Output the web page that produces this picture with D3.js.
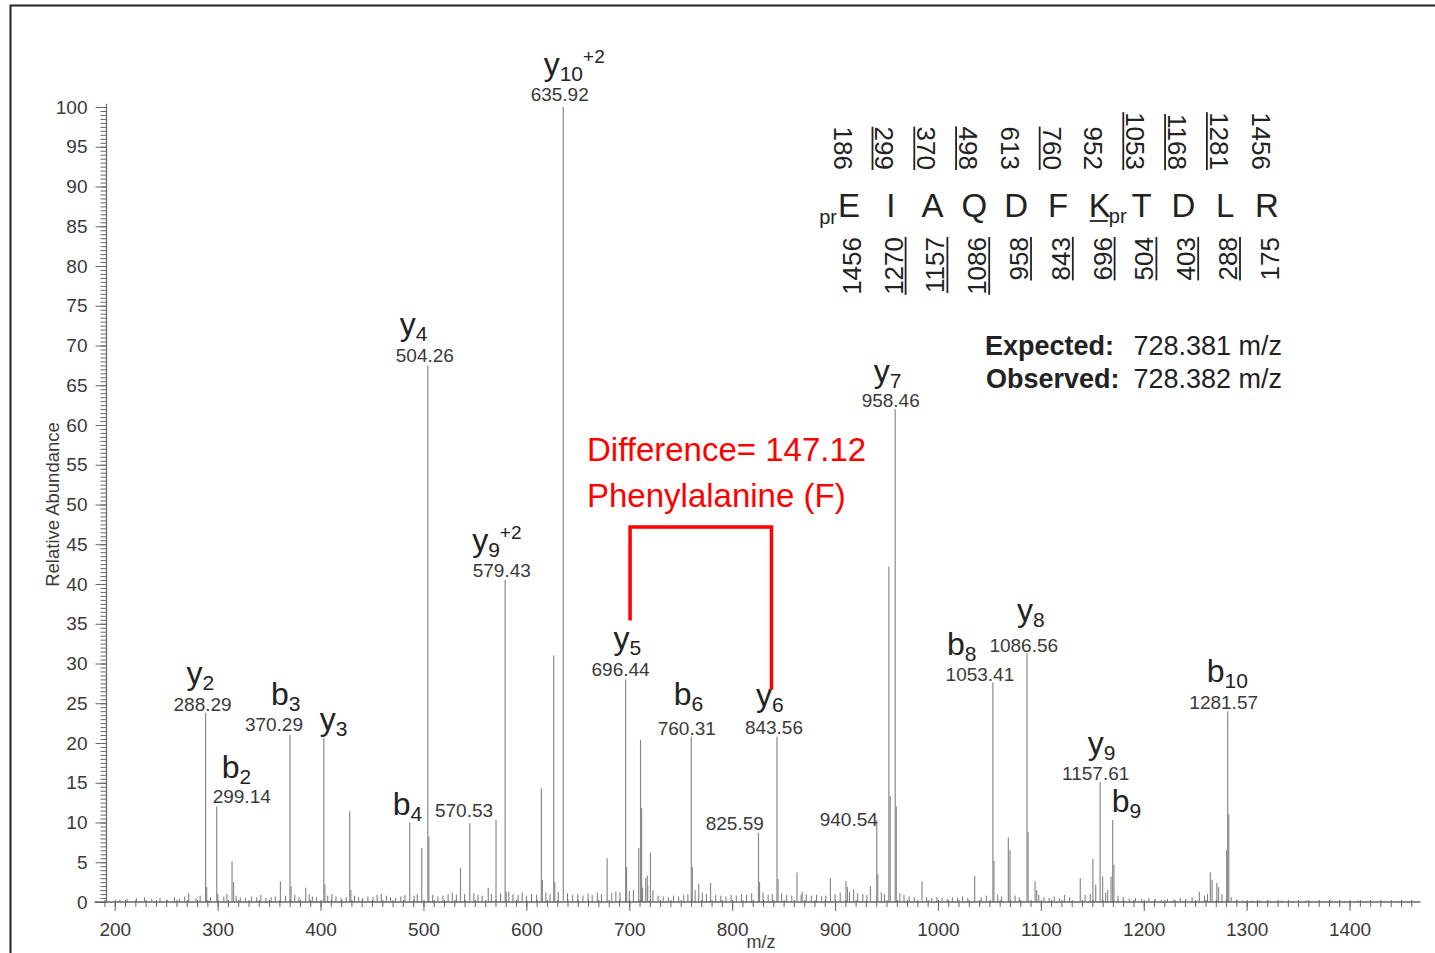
<!DOCTYPE html>
<html>
<head>
<meta charset="utf-8">
<script src="https://cdn.jsdelivr.net/npm/d3@7"></script>
<style>
  html, body { margin: 0; padding: 0; background: #fff; }
  svg { display: block; }
  text { font-family: "Liberation Sans", Arial, sans-serif; }
</style>
</head>
<body>
<div id="chart"></div>
<script>
// ---- data ----
const xTicks = [200, 300, 400, 500, 600, 700, 800, 900, 1000, 1100, 1200, 1300, 1400];
const yTicks = [0, 5, 10, 15, 20, 25, 30, 35, 40, 45, 50, 55, 60, 65, 70, 75, 80, 85, 90, 95, 100];

// [m/z, relative abundance]
const peaks = [
  [271.9, 1.1], [288.29, 23.8], [289.3, 1.9], [299.14, 12.0], [300.1, 1.0], [314.0, 5.1], [315.5, 2.5],
  [361.0, 2.6], [370.29, 21.0], [371.3, 2.0], [385.6, 1.8], [403.2, 20.6], [404.2, 2.2], [411.0, 1.0],
  [428.4, 11.4], [429.4, 1.5], [459.0, 1.0], [486.7, 10.0], [498.3, 6.8], [504.26, 67.5], [505.3, 8.2],
  [536.0, 4.3], [545.0, 9.9], [563.0, 1.8], [570.53, 10.3], [579.43, 40.5], [580.4, 1.3], [596.0, 1.2],
  [614.6, 14.3], [615.6, 2.8], [626.6, 31.0], [627.6, 2.5], [635.92, 100], [678.5, 5.5], [696.44, 28.0],
  [697.4, 4.4], [709.2, 6.8], [711.0, 20.4], [712.0, 11.8], [716.0, 3.0], [717.5, 3.3], [720.6, 6.2],
  [760.31, 20.8], [761.3, 4.4], [767.5, 2.3], [779.0, 2.4], [825.59, 8.7], [826.6, 2.5], [843.56, 20.8],
  [844.6, 2.9], [863.0, 3.7], [868.0, 1.3], [895.5, 3.0], [910.6, 2.6], [912.0, 1.9], [918.0, 1.6],
  [934.4, 2.0], [940.54, 10.3], [941.5, 3.5], [952.3, 42.2], [953.6, 13.3], [958.46, 62.0], [959.5, 12.0],
  [984.5, 2.6], [1035.7, 3.3], [1053.41, 27.6], [1054.4, 5.2], [1068.4, 8.1], [1070.0, 6.5],
  [1086.56, 31.3], [1087.6, 8.8], [1094.4, 2.6], [1096.0, 1.5], [1123.0, 0.9], [1138.3, 3.0],
  [1150.6, 5.4], [1153.3, 2.2], [1157.61, 15.1], [1160.0, 3.2], [1168.2, 3.2], [1169.8, 10.3],
  [1171.0, 4.7], [1235.5, 0.5], [1254.0, 1.3], [1264.7, 3.7], [1266.4, 2.8], [1271.0, 2.4],
  [1272.7, 1.9], [1280.6, 6.5], [1281.57, 24.0], [1282.6, 11.0]
];

// low-level baseline signal
const noisePeaks = [
  [205, 0.3], [212, 0.4], [221, 0.5], [229, 0.6], [236, 0.4], [244, 0.5], [251, 0.3], [258, 0.6],
  [263, 0.4], [268, 0.7], [279, 0.5], [283, 0.8], [293, 0.6], [306, 0.7], [309, 1.0], [318, 0.8],
  [322, 0.6], [327, 0.5], [333, 0.7], [338, 0.6], [342, 0.9], [347, 0.5], [352, 0.6], [356, 0.7],
  [366, 0.8], [375, 0.9], [379, 0.6], [389, 1.0], [392, 0.7], [396, 0.6], [407, 0.8], [415, 0.7],
  [420, 0.5], [425, 0.6], [433, 0.8], [437, 0.6], [441, 0.5], [446, 0.7], [451, 0.6], [455, 0.9],
  [464, 0.8], [468, 0.6], [473, 0.5], [478, 0.7], [482, 0.9], [491, 0.8], [494, 1.0], [509, 0.9],
  [514, 0.7], [519, 0.8], [524, 1.0], [528, 1.2], [532, 0.9], [540, 1.0], [549, 1.1], [553, 0.9],
  [557, 0.8], [566, 1.0], [575, 1.1], [583, 1.3], [587, 1.0], [592, 0.9], [600, 0.8], [605, 1.0],
  [610, 0.9], [619, 1.2], [623, 1.0], [631, 1.3], [640, 1.1], [645, 0.9], [650, 1.0], [655, 0.8],
  [660, 1.1], [664, 0.9], [669, 1.2], [673, 1.0], [683, 1.1], [687, 1.3], [691, 1.2], [700, 1.4],
  [704, 1.5], [713, 1.8], [718, 2.0], [723, 1.5], [728, 0.8], [733, 0.7], [738, 0.6], [743, 0.8],
  [748, 0.7], [753, 0.9], [757, 1.0], [764, 1.5], [771, 1.2], [775, 1.0], [784, 0.9], [789, 0.8],
  [794, 0.7], [799, 0.9], [804, 0.8], [809, 1.0], [814, 0.9], [819, 1.1], [830, 1.2], [835, 0.9],
  [839, 1.0], [848, 1.1], [853, 0.9], [858, 0.8], [867, 0.9], [872, 1.0], [877, 0.8], [882, 0.9],
  [887, 0.7], [891, 0.8], [900, 1.0], [905, 1.2], [914, 1.3], [922, 1.1], [927, 1.0], [931, 0.9],
  [945, 1.2], [948, 1.0], [963, 1.1], [967, 0.9], [972, 0.7], [977, 0.6], [989, 0.6], [994, 0.5],
  [999, 0.6], [1004, 0.5], [1009, 0.4], [1014, 0.6], [1019, 0.5], [1024, 0.7], [1029, 0.5],
  [1042, 0.6], [1047, 0.8], [1058, 0.9], [1062, 0.7], [1075, 0.8], [1079, 0.6], [1098, 0.9],
  [1103, 0.6], [1108, 0.5], [1113, 0.7], [1118, 0.5], [1128, 0.6], [1143, 0.9], [1148, 1.0],
  [1163, 1.2], [1165, 1.5], [1175, 0.8], [1180, 0.6], [1186, 0.4], [1192, 0.5], [1198, 0.4],
  [1205, 0.5], [1211, 0.4], [1217, 0.3], [1223, 0.4], [1229, 0.3], [1241, 0.4], [1247, 0.6],
  [1259, 0.8], [1262, 1.0], [1276, 1.0], [1285, 0.6], [1290, 0.3], [1296, 0.2], [1305, 0.2],
  [1313, 0.2], [1322, 0.15], [1334, 0.2], [1345, 0.15], [1358, 0.2], [1370, 0.15], [1382, 0.2],
  [1395, 0.15], [1408, 0.2], [1420, 0.15], [1435, 0.15], [1448, 0.1]
];

// [m/z, abundance, ion letter, subscript, superscript, print m/z]
const labeledPeaks = [
  [288.29, 23.8, 'y', '2', '', true],
  [299.14, 12.0, 'b', '2', '', true],
  [370.29, 21.0, 'b', '3', '', true],
  [403.2, 20.6, 'y', '3', '', false],
  [498.3, 6.8, 'b', '4', '', false],
  [504.26, 67.5, 'y', '4', '', true],
  [570.53, 10.3, '', '', '', true],
  [579.43, 40.5, 'y', '9', '+2', true],
  [635.92, 100, 'y', '10', '+2', true],
  [696.44, 28.0, 'y', '5', '', true],
  [760.31, 20.8, 'b', '6', '', true],
  [825.59, 8.7, '', '', '', true],
  [843.56, 20.8, 'y', '6', '', true],
  [940.54, 10.3, '', '', '', true],
  [958.46, 62.0, 'y', '7', '', true],
  [1053.41, 27.6, 'b', '8', '', true],
  [1086.56, 31.3, 'y', '8', '', true],
  [1157.61, 15.1, 'y', '9', '', true],
  [1169.8, 10.3, 'b', '9', '', false],
  [1281.57, 24.0, 'b', '10', '', true]
];

// peptide sequence and fragment masses
const residues = ['E', 'I', 'A', 'Q', 'D', 'F', 'K', 'T', 'D', 'L', 'R'];
const bIons = [186, 299, 370, 498, 613, 760, 952, 1053, 1168, 1281, 1456];
const yIons = [1456, 1270, 1157, 1086, 958, 843, 696, 504, 403, 288, 175];
const bSeen = [false, true, true, true, false, true, false, true, true, true, false];
const ySeen = [false, true, true, true, true, true, true, true, true, true, false];

// label placement, px from peak top: [ion dx, ion dy, m/z dx, m/z dy]
const labelOffsets = {
  288.29: [-19, -29, -3, -2],
  299.14: [5, -28.6, 25, -3.6],
  370.29: [-19, -30, -16, -4],
  403.2: [-4, -8, 0, 0],
  498.3: [-29, -33, 0, 0],
  504.26: [-28, -30, -3, -3.5],
  570.53: [0, 0, -32, -3],
  579.43: [-33, -29, -3.4, -3],
  635.92: [-19.6, -32, -3.6, -6],
  696.44: [-12, -30, -5, -3.5],
  760.31: [-17.5, -32, -4.5, -1.6],
  825.59: [0, 0, -23.7, -2.8],
  843.56: [-21, -31, -3, -2.6],
  940.54: [0, 0, -28, 6],
  958.46: [-21.5, -27, -4.5, -2],
  1053.41: [-46, -28, -13, -1.6],
  1086.56: [-10, -32, -3.3, -1.2],
  1157.61: [-12.4, -28, -4.4, -2],
  1169.8: [-1, -8, 0, 0],
  1281.57: [-21, -29, -4, -2]
};

const width = 1435, height = 953;

const svg = d3.select('#chart')
  .append('svg')
  .attr('width', width)
  .attr('height', height);

svg.append('rect')
  .attr('width', width).attr('height', height)
  .attr('fill', '#fff');

// frame of the figure
svg.append('rect')
  .attr('x', 10.5).attr('y', 5.5)
  .attr('width', 1440).attr('height', 970)
  .attr('fill', 'none')
  .attr('stroke', '#222')
  .attr('stroke-width', 2);

const x = d3.scaleLinear().domain([192, 1467]).range([106.5, 1418.5]);
const y = d3.scaleLinear().domain([0, 100]).range([902, 107]);

const axisColor = '#666';
const labelFill = '#3a3a3a';

// peaks
const chart = svg.append('g').attr('class', 'peaks');

chart.selectAll('line.noise')
  .data(noisePeaks)
  .enter()
  .append('line')
  .attr('class', 'noise')
  .attr('x1', d => x(d[0])).attr('x2', d => x(d[0]))
  .attr('y1', y(0)).attr('y2', d => y(d[1]))
  .attr('stroke', '#777')
  .attr('stroke-width', 1);

chart.selectAll('line.peak')
  .data(peaks)
  .enter()
  .append('line')
  .attr('class', 'peak')
  .attr('x1', d => x(d[0])).attr('x2', d => x(d[0]))
  .attr('y1', y(0)).attr('y2', d => y(d[1]))
  .attr('stroke', '#8a8a8a')
  .attr('stroke-width', 1.2);

// y axis
const yMinor = d3.range(0, 100.01, 0.5);
svg.append('g')
  .attr('transform', `translate(${x(192)},0)`)
  .call(d3.axisLeft(y).tickValues(yMinor).tickSize(6).tickFormat(''))
  .call(g => g.select('.domain').remove())
  .call(g => g.selectAll('line').attr('stroke', axisColor));

svg.append('g')
  .attr('class', 'y axis')
  .attr('transform', `translate(${x(192)},0)`)
  .call(d3.axisLeft(y).tickValues(yTicks).tickSize(11).tickPadding(8))
  .call(g => g.select('.domain').remove())
  .call(g => g.selectAll('line').attr('stroke', axisColor))
  .call(g => g.selectAll('text')
    .attr('font-family', '"Liberation Sans", Arial, sans-serif')
    .attr('font-size', 19)
    .attr('fill', labelFill));

svg.append('line')
  .attr('x1', x(192)).attr('x2', x(192))
  .attr('y1', y(0)).attr('y2', y(100.4))
  .attr('stroke', axisColor).attr('stroke-width', 1.2);

// x axis
const xMinor = d3.range(190, 1461, 10);
svg.append('g')
  .attr('transform', `translate(0,${y(0)})`)
  .call(d3.axisBottom(x).tickValues(xMinor).tickSize(5).tickFormat(''))
  .call(g => g.select('.domain').remove())
  .call(g => g.selectAll('line').attr('stroke', axisColor).attr('y1', -2));

svg.append('g')
  .attr('class', 'x axis')
  .attr('transform', `translate(0,${y(0)})`)
  .call(d3.axisBottom(x).tickValues(xTicks).tickSize(9).tickPadding(12).tickFormat(d3.format('d')))
  .call(g => g.select('.domain').remove())
  .call(g => g.selectAll('line').attr('stroke', axisColor))
  .call(g => g.selectAll('text')
    .attr('font-family', '"Liberation Sans", Arial, sans-serif')
    .attr('font-size', 19)
    .attr('fill', labelFill));

svg.append('line')
  .attr('x1', x(192) - 12).attr('x2', x(1467) + 2)
  .attr('y1', y(0)).attr('y2', y(0))
  .attr('stroke', axisColor).attr('stroke-width', 1.4);

svg.append('text')
  .attr('x', x(828)).attr('y', 948)
  .attr('text-anchor', 'middle')
  .attr('font-size', 18)
  .attr('fill', labelFill)
  .text('m/z');

svg.append('text')
  .attr('transform', `translate(59,${y(50)}) rotate(-90)`)
  .attr('text-anchor', 'middle')
  .attr('font-size', 18.5)
  .attr('fill', labelFill)
  .text('Relative Abundance');

// peak annotations
const ionPos = {};
const labels = svg.append('g').attr('class', 'labels');

labeledPeaks.forEach(d => {
  const [mz, inten, ion, sub, sup, showMz] = d;
  const off = labelOffsets[mz];
  const px = x(mz), top = y(inten);
  if (ion) {
    const t = labels.append('text')
      .attr('x', px + off[0])
      .attr('y', top + off[1])
      .attr('fill', '#222');
    t.append('tspan').attr('font-size', 32).text(ion);
    t.append('tspan').attr('font-size', 21).attr('dy', 6).text(sub);
    if (sup) t.append('tspan').attr('font-size', 19).attr('dy', -18).text(sup);
    ionPos[mz] = { x: px + off[0], y: top + off[1] };
  }
  if (showMz) {
    labels.append('text')
      .attr('x', px + off[2])
      .attr('y', top + off[3])
      .attr('text-anchor', 'middle')
      .attr('font-size', 19)
      .attr('fill', labelFill)
      .text(mz.toFixed(2));
  }
});

// y5 -> y6 bracket
const left = ionPos[696.44], right = ionPos[843.56];
const bx1 = left.x + 16.5, bx2 = right.x + 15.5, by = 527;
svg.append('path')
  .attr('d', `M${bx1},${left.y - 29} V${by} H${bx2} V${right.y - 16}`)
  .attr('fill', 'none')
  .attr('stroke', '#ff0000')
  .attr('stroke-width', 3.5);

const noteFont = 'Lato, "Open Sans", sans-serif';
svg.append('text')
  .attr('x', 587).attr('y', 461)
  .attr('font-family', noteFont)
  .attr('font-size', 33)
  .attr('fill', '#ff0000')
  .text('Difference= 147.12');

svg.append('text')
  .attr('x', 587).attr('y', 507)
  .attr('font-family', noteFont)
  .attr('font-size', 33)
  .attr('fill', '#ff0000')
  .text('Phenylalanine (F)');

// sequence with fragment ladder
const seqX = d3.scalePoint().domain(d3.range(residues.length)).range([849, 1267]);
const seq = svg.append('g').attr('class', 'sequence').attr('fill', '#222');

residues.forEach((r, i) => {
  const t = seq.append('text')
    .attr('x', seqX(i)).attr('y', 217)
    .attr('text-anchor', 'middle')
    .attr('font-size', 33)
    .text(r);
  const bb = t.node().getBBox();
  if (i === 0) {
    seq.append('text')
      .attr('x', bb.x - 1).attr('y', 224)
      .attr('text-anchor', 'end')
      .attr('font-size', 20)
      .text('pr');
  }
  if (r === 'K') {
    seq.append('text')
      .attr('x', bb.x + bb.width - 2).attr('y', 223)
      .attr('font-size', 20)
      .text('pr');
    seq.append('line')
      .attr('x1', bb.x + 1).attr('x2', bb.x + bb.width - 3)
      .attr('y1', 221).attr('y2', 221)
      .attr('stroke', '#222').attr('stroke-width', 1.8);
  }
});

const numSize = 26, capHalf = 0.716 * numSize / 2;

bIons.forEach((v, i) => {
  const bx = seqX(i) - 6 - capHalf;
  const t = seq.append('text')
    .attr('transform', `translate(${bx},170) rotate(90)`)
    .attr('text-anchor', 'end')
    .attr('font-size', numSize)
    .text(v);
  if (bSeen[i]) {
    const len = t.node().getComputedTextLength();
    seq.append('line')
      .attr('x1', bx - 3).attr('x2', bx - 3)
      .attr('y1', 170 - len).attr('y2', 170)
      .attr('stroke', '#222').attr('stroke-width', 1.8);
  }
});

yIons.forEach((v, i) => {
  const bx = seqX(i) + 2.5 + capHalf;
  const t = seq.append('text')
    .attr('transform', `translate(${bx},237) rotate(-90)`)
    .attr('text-anchor', 'end')
    .attr('font-size', numSize)
    .text(v);
  if (ySeen[i]) {
    const len = t.node().getComputedTextLength();
    seq.append('line')
      .attr('x1', bx + 3).attr('x2', bx + 3)
      .attr('y1', 237).attr('y2', 237 + len)
      .attr('stroke', '#222').attr('stroke-width', 1.8);
  }
});

// precursor
const prec = svg.append('g').attr('fill', '#222').attr('font-size', 27);
prec.append('text').attr('x', 985).attr('y', 355).attr('font-weight', 'bold').text('Expected:');
prec.append('text').attr('x', 1282).attr('y', 355).attr('text-anchor', 'end').text('728.381 m/z');
prec.append('text').attr('x', 986).attr('y', 388).attr('font-weight', 'bold').text('Observed:');
prec.append('text').attr('x', 1282).attr('y', 388).attr('text-anchor', 'end').text('728.382 m/z');
</script>
</body>
</html>
